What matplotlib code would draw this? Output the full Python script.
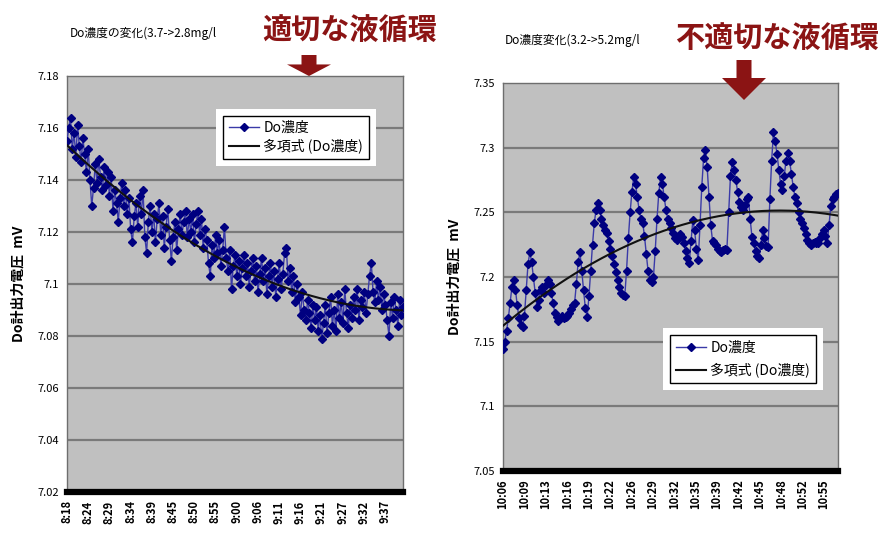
import numpy as np
import matplotlib
matplotlib.use('Agg')
import matplotlib.pyplot as plt
from matplotlib.patches import FancyArrow, Rectangle

plt.rcParams['font.family'] = ['Noto Sans CJK JP', 'DejaVu Sans']

# 左：適切な液循環
left_ticks = ['8:18', '8:24', '8:29', '8:34', '8:39', '8:45', '8:50', '8:55',
              '9:00', '9:06', '9:11', '9:16', '9:21', '9:27', '9:32', '9:37']
left_do = [7.155, 7.160, 7.164, 7.152, 7.158, 7.149, 7.161, 7.153, 7.147, 7.156,
           7.150, 7.143, 7.152, 7.140, 7.130, 7.137, 7.146, 7.139, 7.148, 7.141,
           7.136, 7.145, 7.138, 7.143, 7.134, 7.141, 7.128, 7.136, 7.131, 7.124,
           7.133, 7.139, 7.130, 7.136, 7.127, 7.133, 7.121, 7.116, 7.126, 7.131,
           7.122, 7.134, 7.127, 7.136, 7.118, 7.112, 7.124, 7.130, 7.120, 7.127,
           7.116, 7.125, 7.131, 7.119, 7.126, 7.114, 7.122, 7.129, 7.117, 7.109,
           7.118, 7.124, 7.113, 7.121, 7.127, 7.119, 7.124, 7.128, 7.118, 7.125,
           7.120, 7.127, 7.116, 7.123, 7.128, 7.119, 7.125, 7.114, 7.121, 7.117,
           7.108, 7.103, 7.115, 7.110, 7.119, 7.112, 7.117, 7.107, 7.113, 7.122,
           7.110, 7.105, 7.113, 7.098, 7.107, 7.111, 7.103, 7.109, 7.100, 7.106,
           7.111, 7.103, 7.108, 7.099, 7.105, 7.110, 7.101, 7.107, 7.097, 7.104,
           7.110, 7.101, 7.106, 7.096, 7.103, 7.108, 7.099, 7.105, 7.095, 7.102,
           7.108, 7.098, 7.104, 7.112, 7.114, 7.101, 7.106, 7.097, 7.103, 7.093,
           7.100, 7.095, 7.088, 7.097, 7.090, 7.086, 7.094, 7.089, 7.083, 7.092,
           7.086, 7.091, 7.082, 7.088, 7.079, 7.085, 7.092, 7.081, 7.089, 7.095,
           7.084, 7.090, 7.082, 7.096, 7.087, 7.093, 7.085, 7.098, 7.089, 7.083,
           7.092, 7.087, 7.095, 7.090, 7.098, 7.086, 7.094, 7.091, 7.097, 7.089,
           7.096, 7.103, 7.108, 7.097, 7.093, 7.101, 7.094, 7.099, 7.090, 7.096,
           7.092, 7.086, 7.080, 7.093, 7.087, 7.095, 7.090, 7.084, 7.094, 7.088,
           7.091]

# 右：不適切な液循環
right_ticks = ['10:06', '10:09', '10:13', '10:16', '10:19', '10:22', '10:26', '10:29',
               '10:32', '10:35', '10:39', '10:42', '10:45', '10:48', '10:52', '10:55']
right_do = [7.144, 7.150, 7.158, 7.168, 7.180, 7.192, 7.198, 7.190, 7.178, 7.168,
            7.163, 7.161, 7.170, 7.190, 7.210, 7.219, 7.212, 7.200, 7.188, 7.177,
            7.182, 7.190, 7.192, 7.188, 7.194, 7.198, 7.195, 7.188, 7.180, 7.172,
            7.169, 7.166, 7.168, 7.170, 7.168, 7.169, 7.170, 7.172, 7.175, 7.178,
            7.180, 7.195, 7.212, 7.219, 7.205, 7.190, 7.176, 7.169, 7.185, 7.205,
            7.225, 7.242, 7.252, 7.257, 7.252, 7.245, 7.240, 7.236, 7.234, 7.228,
            7.222, 7.216, 7.210, 7.204, 7.198, 7.192, 7.188, 7.186, 7.185, 7.205,
            7.230, 7.250, 7.266, 7.277, 7.272, 7.262, 7.252, 7.245, 7.242, 7.232,
            7.218, 7.205, 7.198, 7.196, 7.200, 7.220, 7.245, 7.265, 7.277, 7.272,
            7.262, 7.252, 7.245, 7.242, 7.238, 7.234, 7.230, 7.229, 7.232, 7.233,
            7.231, 7.226, 7.220, 7.215, 7.211, 7.228, 7.244, 7.236, 7.222, 7.213,
            7.240, 7.270, 7.292, 7.298, 7.285, 7.262, 7.240, 7.228, 7.226, 7.225,
            7.222, 7.220, 7.219, 7.221, 7.222, 7.221, 7.250, 7.278, 7.289, 7.283,
            7.275, 7.266, 7.258, 7.254, 7.252, 7.256, 7.260, 7.262, 7.245, 7.231,
            7.226, 7.220, 7.216, 7.215, 7.225, 7.236, 7.230, 7.224, 7.223, 7.260,
            7.290, 7.312, 7.305, 7.295, 7.283, 7.272, 7.267, 7.278, 7.290, 7.296,
            7.290, 7.280, 7.270, 7.262, 7.257, 7.250, 7.245, 7.242, 7.238, 7.233,
            7.229, 7.226, 7.225, 7.226, 7.227, 7.226, 7.226, 7.230, 7.233, 7.236,
            7.232, 7.226, 7.240, 7.255, 7.260, 7.262, 7.264, 7.265]

NAVY = '#000080'
RED = '#8b1414'


def draw_panel(ax, values, ticks, ylim, ystep, ylabels, legend_loc, ms, nint,
               lspace):
    x = np.arange(len(values))
    y = np.array(values)
    ax.set_facecolor('#c0c0c0')
    ax.plot(x, y, color='#3a3aa8', lw=1.0, marker='D', ms=ms,
            mfc=NAVY, mec=NAVY, label='Do濃度', zorder=3)
    # Excelの多項式近似（2次）
    coef = np.polyfit(x, y, 2)
    ax.plot(x, np.polyval(coef, x), color='#111111', lw=1.5,
            label='多項式 (Do濃度)', zorder=4)

    ax.set_xlim(0, len(values) - 1)
    ax.set_ylim(*ylim)
    yt = np.arange(ylim[0], ylim[1] + ystep / 2, ystep)
    ax.set_yticks(yt)
    ax.set_yticklabels(ylabels, fontsize=8)
    for v in yt[1:-1]:
        ax.axhline(v, color='#7a7a7a', lw=1.6, zorder=1)

    step = (len(values) - 1) / nint
    ax.set_xticks([i * step for i in range(len(ticks))])
    ax.set_xticklabels(ticks, rotation=90, fontsize=8, fontweight='bold')
    ax.tick_params(length=0, pad=6)

    for s in ['left', 'top', 'right']:
        ax.spines[s].set_color('#6e6e6e')
        ax.spines[s].set_linewidth(1)
    ax.spines['bottom'].set_color('black')
    ax.spines['bottom'].set_linewidth(4.5)

    ax.set_ylabel('Do計出力電圧  mV', fontsize=10, fontweight='bold', labelpad=8)

    leg = ax.legend(loc=legend_loc, fontsize=10, frameon=True, fancybox=False,
                    borderpad=0.4, handlelength=2.2, handletextpad=0.3,
                    labelspacing=lspace)
    leg.get_frame().set_edgecolor('black')
    leg.get_frame().set_linewidth(1)
    leg.get_frame().set_facecolor('white')
    leg.get_frame().set_alpha(1)
    for h in leg.legend_handles:
        if h.get_marker() == 'D':
            h.set_markersize(4)
    return leg


fig = plt.figure(figsize=(8.87, 5.41), dpi=100)

ax1 = fig.add_axes([0.0755, 0.0906, 0.379, 0.769])
leg1 = draw_panel(ax1, left_do, left_ticks, (7.02, 7.18), 0.02,
                  ['7.02', '7.04', '7.06', '7.08', '7.1', '7.12', '7.14', '7.16', '7.18'],
                  (0.464, 0.80), 4.0, 15.85, 0.25)

ax2 = fig.add_axes([0.567, 0.1294, 0.3777, 0.717])
leg2 = draw_panel(ax2, right_do, right_ticks, (7.05, 7.35), 0.05,
                  ['7.05', '7.1', '7.15', '7.2', '7.25', '7.3', '7.35'],
                  (0.499, 0.227), 3.8, 15.65, 0.55)

# 凡例の周りの白い余白
fig.canvas.draw()
for ax, leg in [(ax1, leg1), (ax2, leg2)]:
    bb = leg.get_window_extent()
    pad = 7
    rect = Rectangle((bb.x0 - pad, bb.y0 - pad), bb.width + 2 * pad,
                     bb.height + 2 * pad, transform=None,
                     facecolor='white', edgecolor='none', zorder=4.5)
    ax.add_artist(rect)

# タイトル
fig.text(70 / 887, 1 - 33 / 541, 'Do濃度の変化(3.7->2.8mg/l', fontsize=8.5,
         va='center', ha='left')
fig.text(262 / 887, 1 - 30 / 541, '適切な液循環', fontsize=21, fontweight='bold',
         color=RED, va='center', ha='left')
fig.text(505 / 887, 1 - 40 / 541, 'Do濃度変化(3.2->5.2mg/l', fontsize=8.5,
         va='center', ha='left')
fig.text(675 / 887, 1 - 38 / 541, '不適切な液循環', fontsize=21, fontweight='bold',
         color=RED, va='center', ha='left')

# 矢印
for cx, ytop, ytip in [(309, 55, 76), (744, 60, 100)]:
    ln = (ytip - ytop) / 541
    arr = FancyArrow(cx / 887, 1 - ytop / 541, 0, -ln, width=15 / 887,
                     head_width=44 / 887, head_length=ln * 0.55,
                     length_includes_head=True, transform=fig.transFigure,
                     color=RED, lw=0)
    fig.patches.append(arr)

fig.savefig('out.png', dpi=100)
